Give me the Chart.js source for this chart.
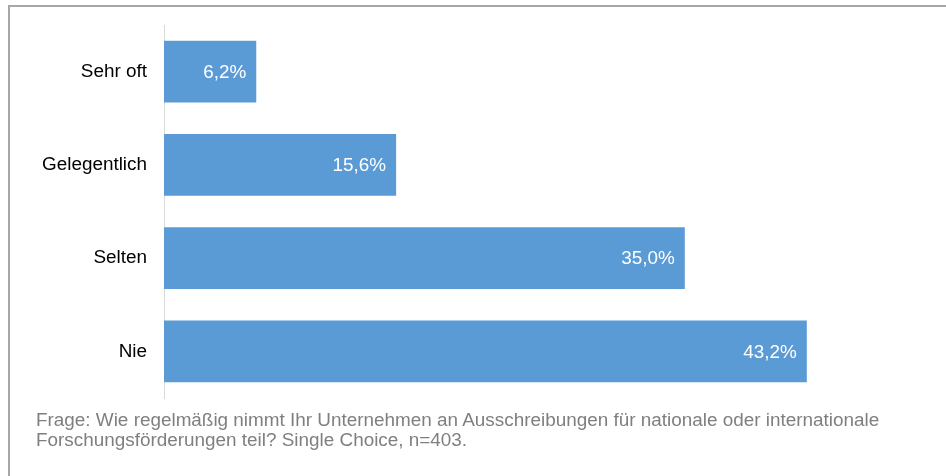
<!DOCTYPE html>
<html>
<head>
<meta charset="utf-8">
<script src="https://cdn.jsdelivr.net/npm/chart.js@4"></script>
<style>
body { margin: 0; background: #fff; font-family: "Liberation Sans", Arial, sans-serif; }
#wrap { position: relative; width: 946px; height: 476px; overflow: hidden; }
#frame { position: absolute; left: 8px; top: 5px; width: 1000px; height: 600px; border: 2px solid #a6a6a6; box-sizing: border-box; }
#box { position: absolute; left: 0; top: 0; width: 946px; height: 476px; }
#note { position: absolute; left: 36px; top: 410px; font-size: 18.9px; line-height: 20px; color: #7f7f7f; white-space: nowrap; }
</style>
</head>
<body>
<div id="wrap">
  <div id="frame"></div>
  <div id="box"><canvas id="grafica"></canvas></div>
  <div id="note">Frage: Wie regelmäßig nimmt Ihr Unternehmen an Ausschreibungen für nationale oder internationale<br>Forschungsförderungen teil? Single Choice, n=403.</div>
</div>
<script>
var categorias = ['Sehr oft', 'Gelegentlich', 'Selten', 'Nie'];
var valores = [6.2, 15.6, 35.0, 43.2];

// etiquetas dentro de las barras, alineadas a la derecha
var etiquetas = {
    id: 'etiquetas',
    afterDatasetsDraw: function(chart){
        var ctx = chart.ctx;
        var meta = chart.getDatasetMeta(0);
        ctx.save();
        ctx.font = '18.9px "Liberation Sans", Arial, sans-serif';
        ctx.fillStyle = '#ffffff';
        ctx.textAlign = 'right';
        ctx.textBaseline = 'middle';
        meta.data.forEach(function(bar, i){
            var txt = valores[i].toFixed(1).replace('.', ',') + '%';
            ctx.fillText(txt, bar.x - 10, bar.y + 1);
        });
        ctx.restore();
    }
};

var grafica = document.getElementById('grafica');
new Chart(grafica, {
    type: 'bar',
    data: {
        labels: categorias,
        datasets: [{
            data: valores,
            backgroundColor: '#5b9bd5',
            borderWidth: 0,
            barPercentage: 0.66,
            categoryPercentage: 1
        }]
    },
    options: {
        indexAxis: 'y',
        responsive: true,
        maintainAspectRatio: false,
        animation: false,
        layout: { padding: { top: 25, bottom: 78, right: 38, left: 0 } },
        plugins: {
            legend: { display: false },
            tooltip: { enabled: false }
        },
        scales: {
            x: { display: false, min: 0, max: 50 },
            y: {
                grid: { display: false },
                border: { display: true, color: '#d9d9d9', width: 1 },
                ticks: {
                    color: '#000000',
                    padding: 9,
                    font: { family: '"Liberation Sans", Arial, sans-serif', size: 18.9 }
                },
                afterFit: function(scale){ scale.width = 164; }
            }
        }
    },
    plugins: [etiquetas]
});
</script>
</body>
</html>
